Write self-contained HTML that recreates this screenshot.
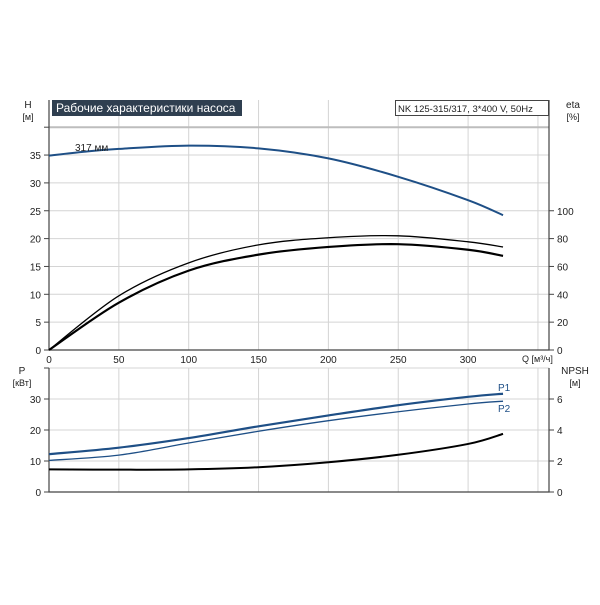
<!DOCTYPE html>
<html><head><meta charset="utf-8"><style>
body{margin:0;background:#fff;}
svg text{font-family:"Liberation Sans","DejaVu Sans",sans-serif;font-size:10px;fill:#222;}
</style></head><body>
<svg id="c" width="600" height="600" viewBox="0 0 600 600">
<g id="grid"></g>
<g id="axes"></g>
<g id="curves"></g>
<g id="labels">
<rect x="52" y="100" width="190" height="16" fill="#2f3f50"/>
<text x="56" y="112" style="font-size:12px;fill:#fff">Рабочие характеристики насоса</text>
<rect x="395.5" y="100.5" width="153" height="15" fill="#fff" stroke="#444"/>
<text x="398" y="112" style="font-size:9.5px">NK 125-315/317, 3*400 V, 50Hz</text>
<text x="28" y="108" text-anchor="middle">H</text>
<text x="28" y="120" text-anchor="middle" style="font-size:9px">[м]</text>
<text x="573" y="108" text-anchor="middle">eta</text>
<text x="573" y="120" text-anchor="middle" style="font-size:9px">[%]</text>
<text x="522" y="362" style="font-size:9px">Q [м³/ч]</text>
<text x="22" y="374" text-anchor="middle">P</text>
<text x="22" y="386" text-anchor="middle" style="font-size:9px">[кВт]</text>
<text x="575" y="374" text-anchor="middle">NPSH</text>
<text x="575" y="386" text-anchor="middle" style="font-size:9px">[м]</text>
<text x="75" y="151">317 мм</text>
<text x="498" y="391" style="fill:#1e4f86">P1</text>
<text x="498" y="412" style="fill:#1e4f86">P2</text>
</g>
</svg>
<script>
const qTicks=[0,50,100,150,200,250,300,350];
const hTicks=[0,5,10,15,20,25,30,35,40];
const hTickLabels=["0","5","10","15","20","25","30","35",""];
const etaTicks=[0,20,40,60,80,100];
const pTicks=[0,10,20,30,40];
const pTickLabels=["0","10","20","30",""];
const npshTicks=[0,2,4,6];
const qH=[0,25,50,100,150,200,250,300,325];
const hVals=[34.9,35.6,36.1,36.7,36.2,34.4,31.1,26.9,24.2];
const qEta=[0,50,100,150,200,250,300,325];
const eta1Vals=[0,38.9,62.6,75.5,80.6,82,77.7,74];
const eta2Vals=[0,34,57,68.5,74,76,72,67.6];
const qP=[0,50,100,150,200,250,300,325];
const p1Vals=[12.2,14.3,17.4,21.2,24.7,28,30.7,31.7];
const p2Vals=[10.2,11.9,15.8,19.6,23,25.9,28.4,29.3];
const qN=[0,50,100,150,200,250,300,325];
const npshVals=[1.46,1.44,1.46,1.6,1.92,2.4,3.1,3.75];

const X0=49,X1=549;
const xq=q=>X0+q*1.397;
const yH=h=>350-h*5.57;
const yEta=e=>350-e*1.3925;
const yP=p=>492-p*3.1;
const yN=n=>492-n*15.5;
const NS="http://www.w3.org/2000/svg";
function mk(parent,tag,attrs){const e=document.createElementNS(NS,tag);for(const k in attrs)e.setAttribute(k,attrs[k]);document.getElementById(parent).appendChild(e);return e;}
function smooth(pts){let d="M"+pts[0][0]+","+pts[0][1];for(let i=0;i<pts.length-1;i++){const p0=pts[i-1]||pts[i],p1=pts[i],p2=pts[i+1],p3=pts[i+2]||p2;d+=" C"+(p1[0]+(p2[0]-p0[0])/6)+","+(p1[1]+(p2[1]-p0[1])/6)+" "+(p2[0]-(p3[0]-p1[0])/6)+","+(p2[1]-(p3[1]-p1[1])/6)+" "+p2[0]+","+p2[1];}return d;}
qTicks.forEach(q=>{[[100,350],[368,492]].forEach(r=>{const l=mk("grid","line",{x1:xq(q),x2:xq(q),y1:r[0],y2:r[1],stroke:"#d4d4d4","stroke-width":1});

});
const t=mk("axes","text",{x:xq(q),y:363,"text-anchor":"middle"});t.textContent=q===350?"":q;

});
hTicks.forEach((h,i)=>{const l=mk("grid","line",{x1:X0,x2:X1,y1:yH(h),y2:yH(h),stroke:h===40?"#bdbdbd":"#d4d4d4","stroke-width":h===40?2:1});


mk("axes","line",{x1:X0-5,x2:X0,y1:yH(h),y2:yH(h),stroke:"#444"});
const t=mk("axes","text",{x:X0-8,y:yH(h)+4,"text-anchor":"end"});t.textContent=hTickLabels[i];

});
etaTicks.forEach(e=>{mk("axes","line",{x1:X1,x2:X1+5,y1:yEta(e),y2:yEta(e),stroke:"#444"});
const t=mk("axes","text",{x:X1+8,y:yEta(e)+4});t.textContent=e;

});
pTicks.forEach((p,i)=>{const l=mk("grid","line",{x1:X0,x2:X1,y1:yP(p),y2:yP(p),stroke:"#d4d4d4"});


mk("axes","line",{x1:X0-5,x2:X0,y1:yP(p),y2:yP(p),stroke:"#444"});
const t=mk("axes","text",{x:X0-8,y:yP(p)+4,"text-anchor":"end"});t.textContent=pTickLabels[i];

});
npshTicks.forEach(n=>{mk("axes","line",{x1:X1,x2:X1+5,y1:yN(n),y2:yN(n),stroke:"#444"});
const t=mk("axes","text",{x:X1+8,y:yN(n)+4});t.textContent=n;

});
[["M49,100V350H549V100","top-axes"],["M49,368V492H549V368","bottom-axes"]].forEach(a=>{const p=mk("axes","path",{d:a[0],fill:"none",stroke:"#444","stroke-width":1.2});

});
function curve(qs,vs,yf,color,w,name){
 const pts=qs.map((q,i)=>[xq(q),yf(vs[i])]);
 const p=mk("curves","path",{d:smooth(pts),fill:"none",stroke:color,"stroke-width":w});
 
 
 return p;}
curve(qH,hVals,yH,"#1e4f86",2,"head-curve");
curve(qEta,eta1Vals,yEta,"#000",1.3,"eta-pump-curve");
curve(qEta,eta2Vals,yEta,"#000",2.2,"eta-total-curve");
curve(qP,p1Vals,yP,"#1e4f86",2.2,"p1-curve");
curve(qP,p2Vals,yP,"#1e4f86",1.3,"p2-curve");
curve(qN,npshVals,yN,"#000",2,"npsh-curve");
</script>
</body></html>
